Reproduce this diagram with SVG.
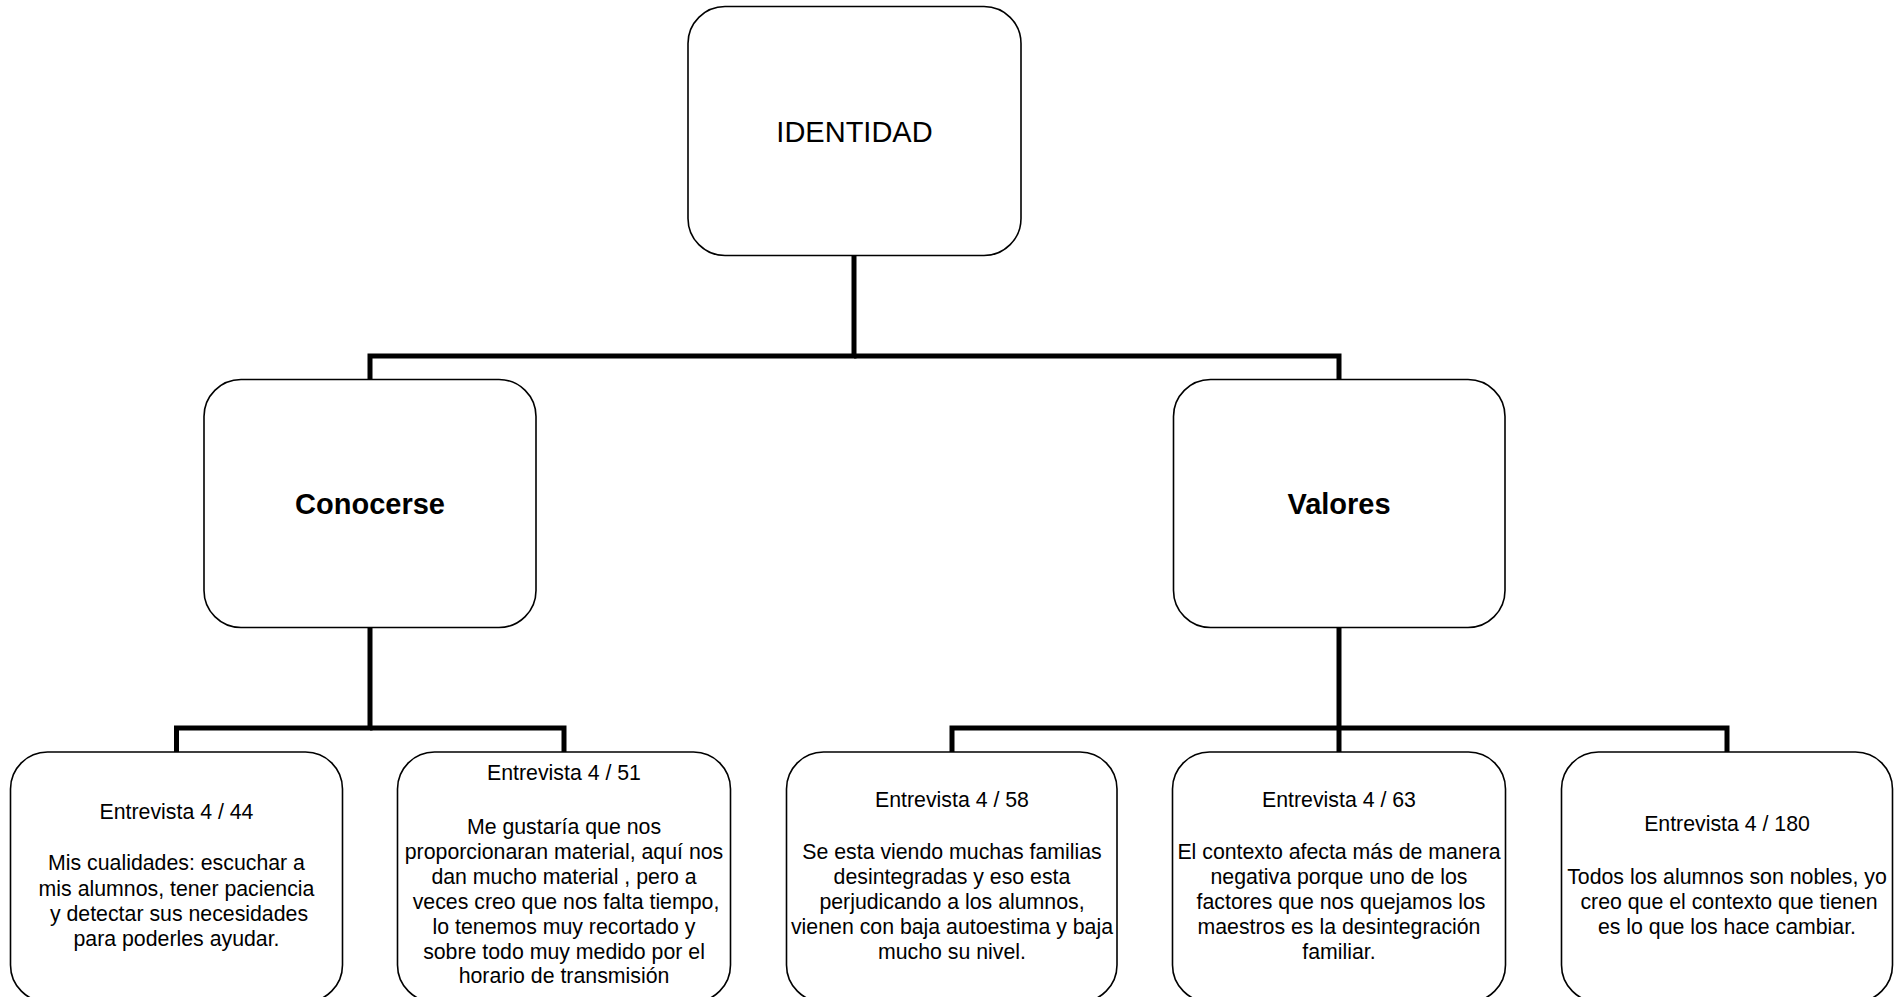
<svg xmlns="http://www.w3.org/2000/svg" width="1902" height="997" viewBox="0 0 1902 997">
<style>
.box{fill:#fff;stroke:#000;stroke-width:1.6}
.conn{fill:none;stroke:#000;stroke-width:5;stroke-linejoin:miter;stroke-linecap:butt}
.t{font-family:"Liberation Sans",Arial,sans-serif;font-size:21.3px;fill:#000;text-anchor:middle}
.h{font-family:"Liberation Sans",Arial,sans-serif;font-size:29px;fill:#000;text-anchor:middle}
.hb{font-family:"Liberation Sans",Arial,sans-serif;font-size:29px;font-weight:bold;fill:#000;text-anchor:middle}
</style>
<rect width="1902" height="997" fill="#fff"/>
<g id="connectors">
<path class="conn" d="M854,255 V356 H370 V380"/>
<path class="conn" d="M854,356 H1339 V380"/>
<path class="conn" d="M370,627 V728 H176.5 V752"/>
<path class="conn" d="M370,728 H564 V752"/>
<path class="conn" d="M1339,627 V752"/>
<path class="conn" d="M1339,728 H952 V752"/>
<path class="conn" d="M1339,728 H1727 V752"/>
</g>
<g id="identidad">
<rect class="box" x="688" y="6.5" width="333" height="249" rx="37"/>
<text class="h" x="854.5" y="141.5">IDENTIDAD</text>
</g>
<g id="conocerse">
<rect class="box" x="204" y="379.5" width="332" height="248" rx="37"/>
<text class="hb" x="370" y="514">Conocerse</text>
</g>
<g id="valores">
<rect class="box" x="1173.5" y="379.5" width="331.5" height="248" rx="37"/>
<text class="hb" x="1339" y="514">Valores</text>
</g>
<g id="e44">
<rect class="box" x="10.5" y="752" width="332" height="250" rx="37"/>
<text class="t" x="176.5" y="819">Entrevista 4 / 44</text>
<text class="t" x="176.5" y="870">Mis cualidades: escuchar a</text>
<text class="t" x="176.5" y="896">mis alumnos, tener paciencia</text>
<text class="t" x="179" y="921">y detectar sus necesidades</text>
<text class="t" x="176.5" y="946">para poderles ayudar.</text>
</g>
<g id="e51">
<rect class="box" x="397.5" y="752" width="333" height="250" rx="37"/>
<text class="t" x="564" y="780">Entrevista 4 / 51</text>
<text class="t" x="564" y="834">Me gustaría que nos</text>
<text class="t" x="564" y="859">proporcionaran material, aquí nos</text>
<text class="t" x="564" y="884">dan mucho material , pero a</text>
<text class="t" x="566" y="909">veces creo que nos falta tiempo,</text>
<text class="t" x="564" y="934">lo tenemos muy recortado y</text>
<text class="t" x="564" y="959">sobre todo muy medido por el</text>
<text class="t" x="564" y="983">horario de transmisión</text>
</g>
<g id="e58">
<rect class="box" x="786.5" y="752" width="330.5" height="250" rx="37"/>
<text class="t" x="952" y="807">Entrevista 4 / 58</text>
<text class="t" x="952" y="859">Se esta viendo muchas familias</text>
<text class="t" x="952" y="884">desintegradas y eso esta</text>
<text class="t" x="952" y="909">perjudicando a los alumnos,</text>
<text class="t" x="952" y="934">vienen con baja autoestima y baja</text>
<text class="t" x="952" y="959">mucho su nivel.</text>
</g>
<g id="e63">
<rect class="box" x="1172.5" y="752" width="333" height="250" rx="37"/>
<text class="t" x="1339" y="807">Entrevista 4 / 63</text>
<text class="t" x="1339" y="859">El contexto afecta más de manera</text>
<text class="t" x="1339" y="884">negativa porque uno de los</text>
<text class="t" x="1341" y="909">factores que nos quejamos los</text>
<text class="t" x="1339" y="934">maestros es la desintegración</text>
<text class="t" x="1339" y="959">familiar.</text>
</g>
<g id="e180">
<rect class="box" x="1561.5" y="752" width="331" height="250" rx="37"/>
<text class="t" x="1727" y="831">Entrevista 4 / 180</text>
<text class="t" x="1727" y="884">Todos los alumnos son nobles, yo</text>
<text class="t" x="1729" y="909">creo que el contexto que tienen</text>
<text class="t" x="1727" y="934">es lo que los hace cambiar.</text>
</g>
</svg>
